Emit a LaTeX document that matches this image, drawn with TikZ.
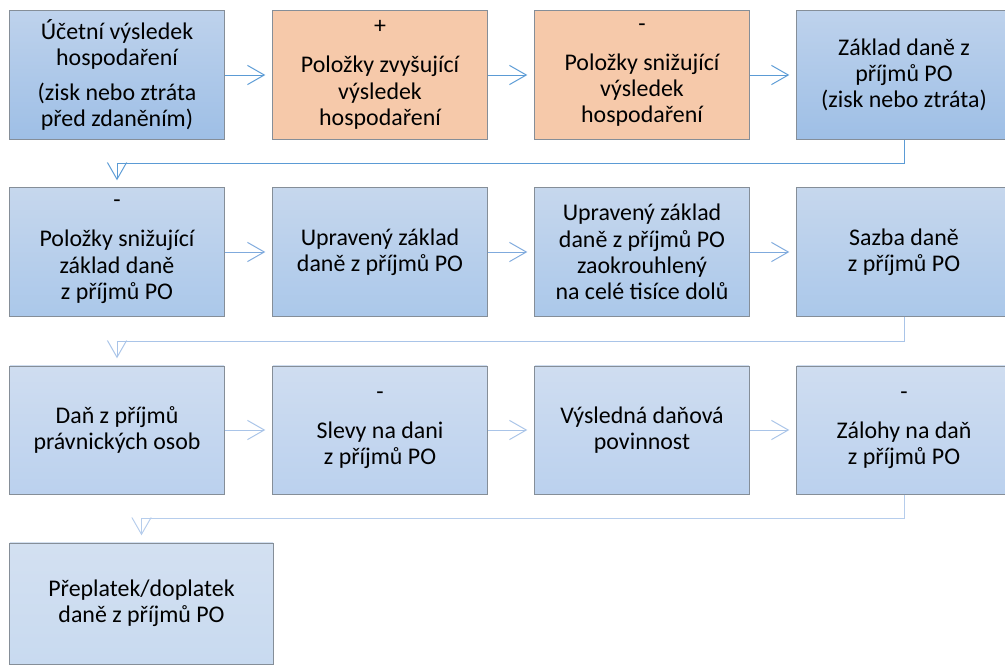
\documentclass[tikz,border=0pt]{standalone}
\usepackage{fontspec}
\setmainfont{Carlito}
\usetikzlibrary{arrows.meta}
\definecolor{rimgray}{HTML}{858E98}
\definecolor{orangebox}{HTML}{F6C9AA}
\definecolor{blueAtop}{HTML}{BED2EC}
\definecolor{blueAbot}{HTML}{9EBFE6}
\definecolor{blueBtop}{HTML}{C6D7ED}
\definecolor{blueBbot}{HTML}{ABC8EA}
\definecolor{blueCtop}{HTML}{CFDDF0}
\definecolor{blueCbot}{HTML}{BBD1EE}
\definecolor{blueDtop}{HTML}{D3E0F1}
\definecolor{blueDbot}{HTML}{C8DAF0}
\definecolor{linkA}{HTML}{5B9BD5}
\definecolor{linkB}{HTML}{7FAADD}
\definecolor{linkC}{HTML}{A9C4E8}
\definecolor{linkD}{HTML}{B6CDEC}
\begin{document}
\begin{tikzpicture}[x=0.025cm, y=-0.025cm,
		font=\fontsize{17}{18.7}\selectfont,
		box/.style={draw=rimgray, line width=0.7pt, minimum width=5.35cm,
			minimum height=3.2cm, align=center, inner sep=2pt},
		rowA/.style={box, top color=blueAtop, bottom color=blueAbot},
		plusbox/.style={box, fill=orangebox},
		rowB/.style={box, top color=blueBtop, bottom color=blueBbot},
		rowC/.style={box, top color=blueCtop, bottom color=blueCbot},
		rowD/.style={box, top color=blueDtop, bottom color=blueDbot},
		link/.style={line width=0.7pt, shorten >=0.18cm,
			-{Straight Barb[length=0.42cm, width=0.48cm]}}]
	\useasboundingbox (0,0) rectangle (1005,666);

	% first row
	\node[rowA] (vysledek) at (117, 75)
		{Účetní výsledek\\hospodaření\\[6pt](zisk nebo ztráta\\před zdaněním)};
	\node[plusbox] (zvysujici) at (380, 75)
		{+\\[9pt]Položky zvyšující\\výsledek\\hospodaření};
	\node[plusbox] (snizujici) at (642, 75)
		{-\\[9pt]Položky snižující\\výsledek\\hospodaření};
	\node[rowA] (zaklad) at (904, 75)
		{Základ daně z\\příjmů PO\\(zisk nebo ztráta)};

	% second row
	\node[rowB] (odpocty) at (117, 252)
		{-\\[9pt]Položky snižující\\základ daně\\z příjmů PO};
	\node[rowB] (upraveny) at (380, 252)
		{Upravený základ\\daně z příjmů PO};
	\node[rowB] (zaokrouhleny) at (642, 252)
		{Upravený základ\\daně z příjmů PO\\zaokrouhlený\\na celé tisíce dolů};
	\node[rowB] (sazba) at (904, 252)
		{Sazba daně\\z příjmů PO};

	% third row
	\node[rowC] (dan) at (117, 430)
		{Daň z příjmů\\právnických osob};
	\node[rowC] (slevy) at (380, 430)
		{-\\[9pt]Slevy na dani\\z příjmů PO};
	\node[rowC] (povinnost) at (642, 430)
		{Výsledná daňová\\povinnost};
	\node[rowC] (zalohy) at (904, 430)
		{-\\[9pt]Zálohy na daň\\z příjmů PO};

	% last row
	\node[rowD, minimum width=6.575cm, minimum height=3.025cm] (preplatek) at (141.5, 603.5)
		{Přeplatek/doplatek\\daně z příjmů PO};

	\draw[link, linkA] (vysledek) -- (zvysujici);
	\draw[link, linkA] (zvysujici) -- (snizujici);
	\draw[link, linkA] (snizujici) -- (zaklad);
	\draw[link, linkA] (zaklad.south) -- ++(0, 24) -| (odpocty.north);

	\draw[link, linkB] (odpocty) -- (upraveny);
	\draw[link, linkB] (upraveny) -- (zaokrouhleny);
	\draw[link, linkB] (zaokrouhleny) -- (sazba);
	\draw[link, linkC] (sazba.south) -- ++(0, 25) -| (dan.north);

	\draw[link, linkC] (dan) -- (slevy);
	\draw[link, linkC] (slevy) -- (povinnost);
	\draw[link, linkC] (povinnost) -- (zalohy);
	\draw[link, linkD] (zalohy.south) -- ++(0, 24) -| (preplatek.north);
\end{tikzpicture}
\end{document}
